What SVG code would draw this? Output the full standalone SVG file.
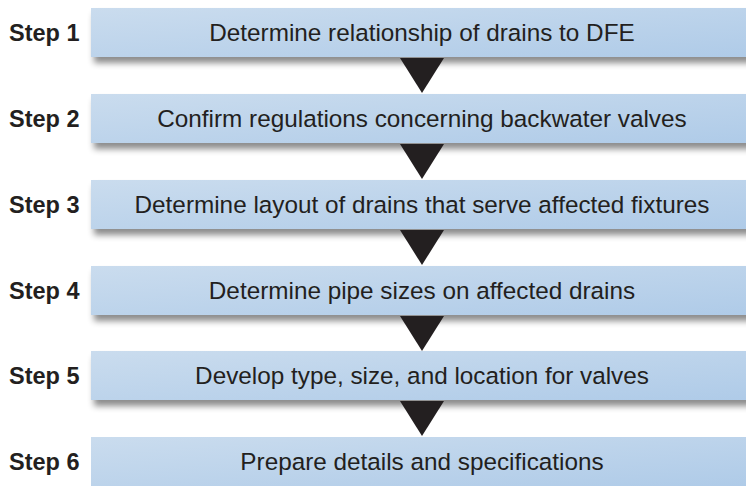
<svg xmlns="http://www.w3.org/2000/svg" width="746" height="486" viewBox="0 0 746 486">
<defs>
<linearGradient id="boxg" x1="0" y1="0" x2="1" y2="1">
<stop offset="0" stop-color="#cadcee"/>
<stop offset="1" stop-color="#afcbe8"/>
</linearGradient>
<filter id="sh" x="-5%" y="-20%" width="110%" height="160%">
<feDropShadow dx="3" dy="6" stdDeviation="3" flood-color="#000" flood-opacity="0.45"/>
</filter>
<style>
.box{fill:url(#boxg)}
.lbl{font-family:"Liberation Sans",Arial,sans-serif;font-weight:bold;font-size:23.5px;fill:#231f20}
.txt{font-family:"Liberation Sans",Arial,sans-serif;font-size:24.3px;fill:#231f20;text-anchor:middle}
.arr{fill:#231f20}
</style>
</defs>
<rect width="746" height="486" fill="#fff"/>
<g id="step1">
<rect class="box" x="91" y="8" width="660" height="49" filter="url(#sh)"/>
<text class="lbl" x="9" y="41">Step 1</text>
<text class="txt" x="422" y="41">Determine relationship of drains to DFE</text>
</g>
<g id="step2">
<rect class="box" x="91" y="94" width="660" height="49" filter="url(#sh)"/>
<text class="lbl" x="9" y="127">Step 2</text>
<text class="txt" x="422" y="127">Confirm regulations concerning backwater valves</text>
</g>
<g id="step3">
<rect class="box" x="91" y="180" width="660" height="49" filter="url(#sh)"/>
<text class="lbl" x="9" y="213">Step 3</text>
<text class="txt" x="422" y="213">Determine layout of drains that serve affected fixtures</text>
</g>
<g id="step4">
<rect class="box" x="91" y="266" width="660" height="49" filter="url(#sh)"/>
<text class="lbl" x="9" y="299">Step 4</text>
<text class="txt" x="422" y="299">Determine pipe sizes on affected drains</text>
</g>
<g id="step5">
<rect class="box" x="91" y="351" width="660" height="49" filter="url(#sh)"/>
<text class="lbl" x="9" y="384">Step 5</text>
<text class="txt" x="422" y="384">Develop type, size, and location for valves</text>
</g>
<g id="step6">
<rect class="box" x="91" y="437" width="660" height="49"/>
<text class="lbl" x="9" y="470">Step 6</text>
<text class="txt" x="422" y="470">Prepare details and specifications</text>
</g>
<g id="connectors">
<polygon class="arr" points="400,58 444,58 422,93"/>
<polygon class="arr" points="400,144 444,144 422,179"/>
<polygon class="arr" points="400,230 444,230 422,265"/>
<polygon class="arr" points="400,316 444,316 422,351"/>
<polygon class="arr" points="400,401 444,401 422,436"/>
</g>
</svg>
